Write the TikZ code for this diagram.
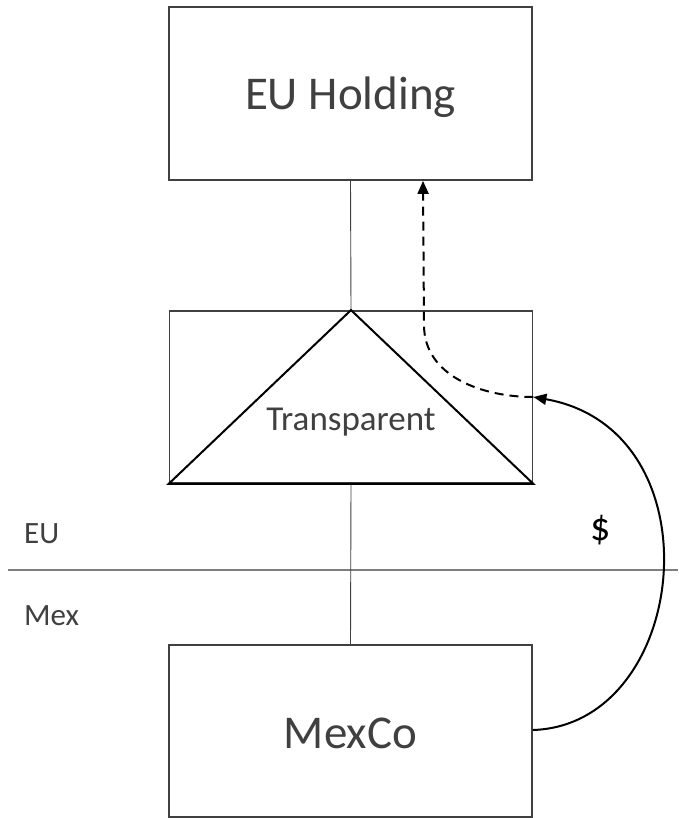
\documentclass[tikz,border=0pt]{standalone}
\usepackage{fontspec}
\setmainfont{Carlito}
\usetikzlibrary{arrows.meta}
\definecolor{ink}{HTML}{404040}
\definecolor{rule}{HTML}{7F7F7F}
\tikzset{
  entity/.style={draw=ink, line width=1.8pt, fill=white, minimum width=363pt,
                 inner sep=0pt, text=ink},
  link/.style={draw=ink, line width=0.9pt},
  flow/.style={black, line width=2pt, -{Triangle[length=13pt,width=11pt]}},
  big/.style={font=\fontsize{47}{50}\selectfont},
  region/.style={text=ink, font=\fontsize{31}{34}\selectfont, anchor=base west, inner sep=0pt}
}
\begin{document}
\begin{tikzpicture}[x=1pt, y=-1pt]
  \useasboundingbox (0,0) rectangle (678,818);

  % jurisdiction divider
  \coordinate (divL) at (8,570);
  \coordinate (divR) at (678,570);
  \draw[rule, line width=1.3pt] (divL) -- (divR);

  % entities
  \node[entity, minimum height=173pt] (hold) at (350.5,93.5) {};
  \node[entity, minimum height=172pt] (trans) at (351,397) {};
  \node[entity, minimum height=172pt] (mexco) at (350.5,731) {};

  % ownership chain
  \draw[link] (hold.south) -- (trans.north);
  \draw[link] (trans.south) -- (mexco.north);

  % transparent entity marker
  \draw[black, line width=2pt, line join=miter]
    (trans.south west) -- (trans.north) -- (trans.south east) -- cycle;

  % labels
  \node[big, text=ink, anchor=base] (holdtxt) at (350.5,110) {EU Holding};
  \node[text=ink, anchor=base, font=\fontsize{35}{38}\selectfont] (transtxt) at (351,430) {Transparent};
  \node[big, text=ink, anchor=base] (mexcotxt) at (350.5,748) {MexCo};
  \node[region] (eu) at (24,543) {EU};
  \node[region] (mex) at (24,625) {Mex};
  \node[anchor=base, inner sep=0pt, font=\fontsize{40}{44}\selectfont] (dollar) at (601,540) {\$};

  % payment flow
  \coordinate (mexout) at ([yshift=1pt]mexco.east);
  \coordinate (transin) at (trans.east);
  \draw[flow] (mexout) .. controls (690,725) and (720,430) .. (transin);

  % onward flow to the holding
  \coordinate (bend) at (424,325);
  \draw[flow, dashed, dash pattern=on 9pt off 6pt]
    (transin) to[out=180, in=-90] (bend) -- (hold.south -| 423,0);
\end{tikzpicture}
\end{document}
